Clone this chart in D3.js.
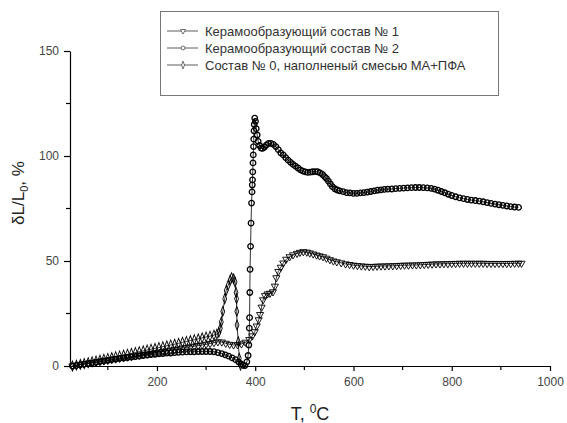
<!DOCTYPE html>
<html>
<head>
<meta charset="utf-8">
<script src="https://cdnjs.cloudflare.com/ajax/libs/d3/7.8.5/d3.min.js"></script>
<style>
    body { margin: 0; background: #fff; }
    text { font-family: "Liberation Sans", Arial, sans-serif; }
</style>
</head>
<body>
<div id="canvas"></div>
<script>
// series names (legend)
var seriesNames = [
    'Керамообразующий состав № 1',
    'Керамообразующий состав № 2',
    'Состав № 0, наполненый смесью МА+ПФА'
];

// [T, dL/L0]
var series1 = [
    [28,0],[36,0.3],[44,0.6],[52,0.9],[60,1.2],[68,1.5],[76,1.8],[84,2.1],[92,2.4],[100,2.7],
    [108,3.0],[116,3.3],[124,3.6],[132,3.9],[140,4.2],[148,4.5],[156,4.8],[164,5.1],[172,5.4],[180,5.7],
    [188,6.0],[196,6.3],[204,6.6],[212,6.9],[220,7.2],[228,7.5],[236,7.8],[244,8.1],[252,8.5],[260,8.8],
    [268,9.1],[276,9.4],[284,9.7],[292,10.0],[300,10.3],[308,10.7],[316,11.1],[324,11.5],[332,11.4],[340,10.8],
    [348,10.3],[356,10.0],[364,10.1],[372,10.5],[380,11.3],[388,12.6],[394,14.3],[399,16.3],[403,19],[407,22],
    [410,24.5],[413,28],[416,31.5],[420,33.5],[425,34.3],[430,34.6],[436,35.3],[440,38],[443,42],[447,45],
    [452,47],[457,49],[463,50.8],[470,52],[477,52.9],[485,53.6],[491,54.1],[498,54.4],[505,54.2],[511,53.8],
    [518,53.3],[525,52.8],[531,52.4],[538,52],[545,51.3],[552,50.6],[559,50],[566,49.6],[575,49.1],[584,48.6],
    [592,48.3],[600,48],[608,47.8],[616,47.6],[624,47.5],[632,47.3],[640,47.4],[648,47.5],[656,47.6],[664,47.6],
    [672,47.7],[680,47.7],[688,47.8],[696,47.9],[704,48],[712,48],[720,48.1],[728,48.1],[736,48.2],[744,48.3],
    [752,48.4],[760,48.5],[768,48.6],[776,48.6],[784,48.7],[792,48.7],[800,48.8],[808,48.8],[816,48.9],[824,48.9],
    [832,48.9],[840,48.9],[848,48.9],[856,48.9],[864,48.9],[872,48.8],[880,48.8],[888,48.8],[896,48.8],[904,48.8],
    [912,48.8],[920,48.8],[928,48.9],[936,48.9],[942,48.9]
];

var series2 = [
    [28,0],[36,0.3],[44,0.6],[52,0.9],[60,1.2],[68,1.5],[76,1.8],[84,2.1],[92,2.4],[100,2.7],
    [108,3.0],[116,3.3],[124,3.6],[132,3.8],[140,4.0],[148,4.3],[156,4.5],[164,4.7],[172,5.0],[180,5.2],
    [188,5.4],[196,5.6],[204,5.8],[212,5.9],[220,6.1],[228,6.2],[236,6.4],[244,6.5],[252,6.6],[260,6.7],
    [268,6.8],[276,6.8],[284,6.9],[292,6.9],[300,6.9],[308,6.9],[316,6.8],[324,6.4],[332,5.9],[339,5.3],
    [346,4.7],[353,3.9],[360,3.0],[366,2.0],[371,1.0],[375,0.3],[379,0.2],[383,2],[385.5,5],[387,10],
    [388,18],[388.5,23],[389,35],[389.5,46],[390.5,57],[391.5,68],[392.5,77.6],[393.5,82.9],[394,86.2],[394.5,88.6],
    [395,92.4],[395.5,96.7],[396,100.5],[396.5,104.5],[397,108],[397.5,112],[398,115],[399,118],[400.5,116.5],[402,113],
    [404,110],[406,107],[409,105],[412,103.8],[415,103.6],[419,104.3],[423,105.3],[427,106],[432,106],[437,105.5],
    [442,104.5],[447,103],[452,101.5],[457,100.5],[462,99.2],[467,98],[472,97],[477,96],[482,95.2],[487,94.3],
    [492,93.4],[497,92.8],[502,92.4],[507,92.2],[512,92.3],[517,92.5],[522,92.6],[527,92.5],[532,92],[537,91.2],
    [541,90.2],[545,89.3],[549,88],[553,86.7],[557,85.4],[562,84.4],[567,83.8],[572,83.4],[579,83],[586,82.6],
    [593,82.4],[600,82.2],[607,82.2],[614,82.4],[621,82.6],[628,82.8],[635,83.1],[642,83.4],[649,83.7],[656,83.9],
    [663,84.1],[670,84.2],[678,84.3],[686,84.5],[694,84.6],[702,84.7],[710,84.8],[718,84.9],[726,85],[734,85],
    [742,84.9],[750,84.8],[758,84.6],[765,84.2],[772,83.7],[779,83.1],[786,82.5],[793,81.8],[800,81.2],[808,80.6],
    [816,80.1],[824,79.7],[832,79.3],[840,79],[848,78.8],[856,78.5],[864,78.2],[872,77.8],[880,77.4],[888,77.1],
    [896,76.8],[904,76.5],[912,76.2],[920,75.9],[928,75.7],[936,75.5]
];

var series0 = [
    [28,0],[36,0.4],[44,0.8],[52,1.2],[60,1.6],[68,2.0],[76,2.4],[84,2.8],[92,3.2],[100,3.6],
    [108,4.0],[116,4.4],[124,4.8],[132,5.2],[140,5.6],[148,6.0],[156,6.4],[164,6.8],[172,7.2],[180,7.6],
    [188,8.0],[196,8.4],[204,8.8],[212,9.2],[220,9.6],[228,10.0],[236,10.4],[244,10.8],[252,11.3],[260,11.7],
    [268,12.1],[276,12.5],[284,12.9],[292,13.4],[300,13.8],[308,14.2],[316,14.7],[322,15.2],[326,16],[329,18],
    [331,21],[334,26],[338,32],[341,36],[345,38.5],[349,41],[352,42],[356,41.5],[359,40],[361,35],
    [362,32],[362.5,26],[363,19.5],[365.5,11.6],[367.5,3.7],[370,0.5]
];

var xMajor = [200, 400, 600, 800, 1000],
    xMinor = [100, 300, 500, 700, 900],
    yMajor = [0, 50, 100, 150],
    yMinor = [25, 75, 125];

var width = 567,
    height = 423;

var svg = d3.select('#canvas').append('svg')
            .attr('width', width)
            .attr('height', height);

var x = d3.scaleLinear().domain([23, 1000]).range([70, 550]);
var y = d3.scaleLinear().domain([0, 150]).range([366, 51]);

// axes
var xAxis = d3.axisBottom(x).tickValues(xMajor).tickFormat(d3.format('d'))
              .tickSize(5).tickPadding(6).tickSizeOuter(0);
var yAxis = d3.axisLeft(y).tickValues(yMajor).tickFormat(d3.format('d'))
              .tickSize(6).tickPadding(5).tickSizeOuter(0);

var gx = svg.append('g')
            .attr('transform', 'translate(0,' + y(0) + ')')
            .call(xAxis);
var gy = svg.append('g')
            .attr('transform', 'translate(' + x.range()[0] + ',0)')
            .call(yAxis);

[gx, gy].forEach(function (g) {
    g.select('.domain').attr('stroke', '#000').attr('stroke-width', 1.2);
    g.selectAll('.tick line').attr('stroke', '#000').attr('stroke-width', 1.2);
    g.selectAll('.tick text')
        .attr('fill', '#444')
        .style('font-size', '12px')
        .style('font-family', '"Liberation Sans", Arial, sans-serif');
});

gx.selectAll('line.minor')
    .data(xMinor).enter()
    .append('line')
    .attr('class', 'minor')
    .attr('x1', function (d) { return x(d); })
    .attr('x2', function (d) { return x(d); })
    .attr('y1', 0).attr('y2', 4)
    .attr('stroke', '#000').attr('stroke-width', 1.2);

gy.selectAll('line.minor')
    .data(yMinor).enter()
    .append('line')
    .attr('class', 'minor')
    .attr('y1', function (d) { return y(d); })
    .attr('y2', function (d) { return y(d); })
    .attr('x1', 0).attr('x2', -4)
    .attr('stroke', '#000').attr('stroke-width', 1.2);

// axis titles
var xt = svg.append('text')
            .attr('x', 310).attr('y', 420)
            .attr('text-anchor', 'middle')
            .attr('fill', '#222')
            .style('font-size', '18px');
xt.append('tspan').text('T, ');
xt.append('tspan').attr('dy', -7).style('font-size', '12px').text('0');
xt.append('tspan').attr('dy', 7).text('C');

var yt = svg.append('text')
            .attr('transform', 'translate(24,193) rotate(-90)')
            .attr('text-anchor', 'middle')
            .attr('fill', '#222')
            .style('font-size', '17px');
yt.append('tspan').text('δL/L');
yt.append('tspan').attr('dy', 4).style('font-size', '11px').text('0');
yt.append('tspan').attr('dy', -4).text(', %');

// markers
var symbols = [
    d3.symbol().type(d3.symbolTriangle).size(22),
    d3.symbol().type(d3.symbolCircle).size(24),
    d3.symbol().type(d3.symbolDiamond).size(20)
];
var markerStroke = [0.9, 1.3, 1.0];
var transforms = [
    function (px, py) { return 'translate(' + px + ',' + py + ') rotate(180)'; },
    function (px, py) { return 'translate(' + px + ',' + py + ')'; },
    function (px, py) { return 'translate(' + px + ',' + py + ') scale(0.8,1.2)'; }
];

var line = d3.line()
            .x(function (d) { return x(d[0]); })
            .y(function (d) { return y(d[1]); });

var allSeries = [series1, series2, series0];
var drawOrder = [0, 2, 1];

drawOrder.forEach(function (i) {
    var data = allSeries[i];
    var g = svg.append('g').attr('class', 'series');
    g.append('path')
        .attr('d', line(data))
        .attr('fill', 'none')
        .attr('stroke', '#000')
        .attr('stroke-width', 0.8);
    g.selectAll('path.mk')
        .data(data).enter()
        .append('path')
        .attr('class', 'mk')
        .attr('d', symbols[i])
        .attr('transform', function (d) { return transforms[i](x(d[0]), y(d[1])); })
        .attr('fill', 'none')
        .attr('stroke', '#000')
        .attr('stroke-width', markerStroke[i]);
});

// legend
var legend = svg.append('g');
legend.append('rect')
    .attr('x', 160.5).attr('y', 11.5)
    .attr('width', 338).attr('height', 84)
    .attr('fill', '#fff')
    .attr('stroke', '#777')
    .attr('stroke-width', 1);

var rowY = [31, 48, 65];
seriesNames.forEach(function (name, i) {
    var gy = rowY[i];
    legend.append('line')
        .attr('x1', 167).attr('x2', 198)
        .attr('y1', gy).attr('y2', gy)
        .attr('stroke', '#333').attr('stroke-width', 0.8);
    legend.append('path')
        .attr('d', d3.symbol().type(symbols[i].type()).size(12))
        .attr('transform', transforms[i](183, gy))
        .attr('fill', '#fff')
        .attr('stroke', '#333')
        .attr('stroke-width', 0.7);
    legend.append('text')
        .attr('x', 205).attr('y', gy + 4.5)
        .attr('fill', '#333')
        .style('font-size', '13px')
        .text(name);
});
</script>
</body>
</html>
